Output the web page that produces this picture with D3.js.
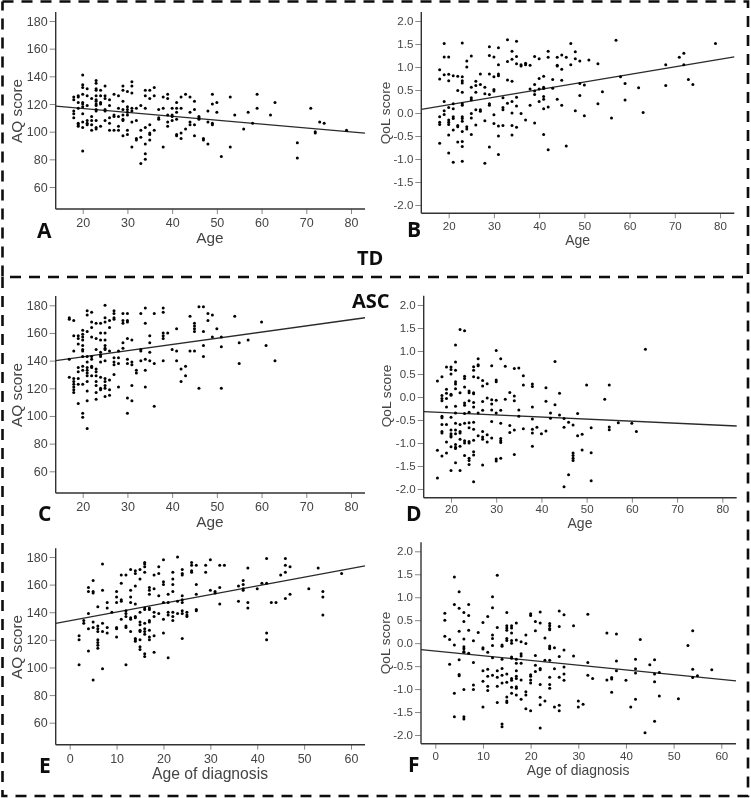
<!DOCTYPE html>
<html><head><meta charset="utf-8">
<script src="https://cdnjs.cloudflare.com/ajax/libs/d3/7.8.5/d3.min.js"></script>
<style>html,body{margin:0;padding:0;background:#fff}svg{display:block}</style></head>
<body><div id="chart"></div>
<script>
// Each row: [x value, y values observed at that x]
const pointsA = [[18,[125,123,115,113,110]],[19,[126,125,121,117,106,105,104]],[20,[141,134,132,127,121,120,118,113,107,103,86]],[21,[131,126,119,108,106,105]],[22,[124,111,108,105,101]],[23,[137,135,131,130,126,123,122,120,119,116,115,108,103,102]],[24,[130,126,121,120,104]],[25,[133,126,124,116,115,108]],[26,[123,119,110,106,101]],[27,[127,112,111,101]],[28,[126,117,111,104,101]],[29,[133,130,122,116,112,109,108,97]],[30,[129,118,116,114,112,101,98]],[31,[136,133,128,117,115,107,89]],[32,[117,108,95,94]],[33,[119,101,96,77]],[34,[130,126,117,103,91,84,80]],[35,[130,124,105,99,98,94]],[36,[132,126,101]],[37,[116,110,109]],[38,[125,117,89]],[39,[127,124,112,107,104]],[40,[117,112,111,108]],[41,[121,117,114,109,98,97]],[42,[125,117,99,95]],[43,[127,102]],[44,[125,114,107,105]],[45,[122,116,105,97]],[46,[111,110,109]],[47,[95,94]],[48,[115,107,91]],[49,[127,120,106,105]],[50,[121,114]],[51,[82]],[53,[125,89]],[54,[112]],[56,[102]],[57,[114]],[58,[106]],[59,[127,117]],[62,[112]],[63,[121]],[68,[92,81]],[71,[117]],[72,[100,99]],[73,[107]],[74,[106]],[79,[101]]];
const pointsB = [[18,[0.94,0.74,-0.08,-0.2,-0.25,-0.66]],[19,[1.51,1.22,0.83,0.25,0.05,-0.03]],[20,[1.22,0.84,0.7,0.12,-0.15,-0.2,-0.25,-0.48,-0.87]],[21,[0.81,0.2,0.09,-0.08,-0.12,-0.37,-1.07]],[22,[0.8,0.49,-0.27,-0.3,-0.63]],[23,[1.52,0.79,0.7,0.65,0.45,0.2,0.17,-0.08,-0.12,-0.18,-0.4,-0.62,-0.73,-1.05]],[24,[1.13,1.0,-0.3,-0.35]],[25,[1.24,0.56,0.33,0.29,-0.01,-0.11,-0.47]],[26,[0.69,0.6,0.45,0.07,-0.26]],[27,[0.85,0.62,0.07,0.04]],[28,[0.56,0.42,-0.17,-1.09]],[29,[1.44,1.25,0.85,0.4,0.2,0.17,-0.74]],[30,[1.22,0.79,0.51,0.48,-0.04,-0.23]],[31,[1.42,1.05,0.85,0.81,-0.28,-0.5,-0.9]],[32,[0.33,0.12,0.07,-0.27]],[33,[1.59,1.12,0.72,0.21]],[34,[1.34,1.17,0.69,0.25,0,-0.27,-0.48]],[35,[1.56,1.23,1.07,0.34,0.15,-0.31]],[36,[1.05,1.02,-0.01]],[37,[1.08,1.05,-0.15]],[38,[1.04,0.52,0.17]],[39,[1.23,0.62,0.48,0.4,-0.22]],[40,[1.18,0.75,0.52,0.25]],[41,[0.8,0.56,0.53,0.36,0.3,0.09,-0.47]],[42,[1.34,1.21,0.13,-0.8]],[43,[0.73,0.54]],[44,[1.21,1.04,1.02,0.3]],[45,[1.26,0.95,0.71,0.17]],[46,[1.21,-0.72]],[47,[1.51,1.05]],[48,[1.33,1.18,0.05]],[49,[1.13,0.64,0.38]],[50,[0.61,-0.06]],[51,[1.15]],[53,[1.07,0.2]],[54,[0.46]],[56,[-0.11]],[57,[1.58]],[58,[0.79]],[59,[0.64,0.28]],[62,[0.55]],[63,[0.01]],[68,[1.05,0.6]],[71,[1.21]],[72,[1.3,1.05]],[73,[0.73]],[74,[0.62]],[79,[1.51]]];
const pointsC = [[17,[171,170,141,128]],[18,[169,158,147,127,125,123,121,119,117]],[19,[158,156,152,135,132,127,123,109]],[20,[162,159,157,155,151,148,147,143,136,133,123,102,99]],[21,[176,173,161,143,139,135,133,131,129,125,118,111,91]],[22,[175,168,164,157,143,141,136,135,129]],[23,[167,156,148,134,132,129,125,122,117,112]],[24,[167,160,155,146,144,143,139,128,120,119]],[25,[180,171,168,160,155,151,149,148,140,127,125,122,120,114]],[26,[169,164,147,126,119,115]],[27,[176,174,171,170,142,139,137,130]],[28,[147,142,138,121]],[29,[174,169,167,153,149]],[30,[174,169,168,156,141,138,113,102]],[31,[155,139,137,122,111]],[32,[133,131]],[33,[174,148,147,140]],[34,[178,167,141,133,121]],[35,[158,153,146,140]],[36,[174,138,107]],[38,[178,175,160,158,156,140]],[39,[160]],[40,[148]],[41,[163,147,140]],[42,[134,125]],[43,[136,129]],[44,[172,147]],[45,[167,165,163,161,147]],[46,[179,120]],[47,[179,161,151,143]],[48,[174,169]],[49,[173,157]],[50,[163]],[51,[157,150,120]],[54,[172]],[55,[153,138]],[57,[155]],[60,[168]],[61,[151]],[63,[140]]];
const pointsD = [[17,[0.35,-1.16,-1.76]],[18,[0.44,0.03,-0.03,-0.08,-0.42,-0.45,-0.6,-0.75,-0.78,-1.28]],[19,[0.65,0.17,0.08,-0.03,-0.22,-0.6,-0.98,-1.22]],[20,[0.65,0.6,0.5,0.06,0.04,-0.44,-0.72,-0.8,-0.84,-0.87,-1.08,-1.6]],[21,[1.13,0.76,0.58,0.33,0.28,0.18,-0.2,-0.35,-0.57,-0.72,-0.8,-1.03,-1.09,-1.12,-1.43]],[22,[1.47,0.09,-0.6,-0.75,-0.78,-0.92,-1.07,-1.6]],[23,[1.44,0.45,0.4,0.22,-0.13,-0.18,-0.36,-0.57,-0.95,-1.0,-1.27]],[24,[0.13,0.09,-0.08,-0.33,-0.56,-0.67,-0.97,-1.0,-1.33,-1.38,-1.47]],[25,[0.66,0.58,0.44,0.09,0.07,-0.12,-0.22,-0.55,-0.7,-0.94,-1.19,-1.26,-1.84]],[26,[0.83,0.7,0.68,0.42,-0.35,-0.84]],[27,[0.36,0.24,-0.1,-0.29,-0.75,-0.87,-0.92,-1.48]],[28,[0.29,-0.02,-0.82,-0.98]],[29,[0.68,-0.06,-0.15,-0.28,-0.53,-0.89]],[30,[1.01,0.37,0.33,-0.07,-0.35,-1.35,-1.39]],[31,[0.83,-0.29,-0.57,-0.9,-0.95,-0.99,-1.33]],[32,[0.67,-0.05]],[33,[0.1,-0.62,-0.77]],[34,[0.62,0.02,-0.08,-0.72,-1.25]],[35,[0.63,-0.28,-0.42]],[36,[0.46,0.26,-0.69]],[38,[0.28,0.23,-0.22,-0.48,-0.7,-0.78,-1.07]],[39,[-0.66]],[40,[-0.8]],[41,[0.2,-0.09,-0.74]],[42,[-0.35,-0.46]],[43,[0.77,-0.17]],[44,[0.08,-0.39]],[45,[-0.47,-0.66,-1.95]],[46,[-0.55,-1.69]],[47,[-0.61,-1.22,-1.27,-1.33,-1.38]],[48,[-0.36,-0.84]],[49,[-0.81,-1.15]],[50,[0.26]],[51,[-0.67,-1.21,-1.82]],[54,[-0.05]],[55,[0.26,-0.65,-0.71]],[57,[-0.56]],[60,[-0.57]],[61,[-0.75]],[63,[1.04]]];
const pointsE = [[2,[123,120,102]],[3,[134,132]],[4,[158,155,139,128,112]],[5,[163,155,154,133,129,91]],[6,[144,130,128,126,120,118,116,114]],[7,[175,156,132,126,99]],[8,[147,143,129,125]],[9,[140]],[10,[155,151,147,129,128,122]],[11,[167,161,149,148,135]],[12,[167,141,139,137,130,129,102]],[13,[171,156,151,147,136,135,126]],[14,[170,168,159,146,137,136,121,120,119]],[15,[171,164,140,133,131,127,126,120,115,113]],[16,[176,175,173,169,143,142,132,128,126,124,110,108]],[17,[158,156,153,143,142,134,133,127,122,120]],[18,[167,157,140,137,123,111]],[19,[173,168,152,139]],[20,[178,162,160,147,135,125]],[21,[153,147,140,138,107]],[22,[169,164,160,155,140,137,134]],[23,[180,148,139]],[24,[171,168,167,152,149,147,141,139,121]],[25,[140,138,137]],[26,[176,174,170,169]],[27,[174,160,153,142,141]],[29,[174,169]],[30,[178,156]],[31,[155,154]],[32,[174,158,146]],[33,[174]],[36,[159,148]],[37,[163,160,157,156]],[38,[172,147,143]],[40,[157]],[41,[161]],[42,[179,161,125,120]],[43,[147]],[44,[147]],[45,[167]],[46,[179,174,169,150]],[47,[173,153]],[51,[157]],[53,[172]],[54,[155,151,138]],[58,[168]]];
const pointsF = [[2,[0.65,0.5,0.15]],[3,[0.08,-0.46]],[4,[1.44,0.84,-0.04,-1.09,-1.6]],[5,[1.12,0.76,0.26,-0.36,-0.68,-0.71]],[6,[0.67,0.47,0.09,-0.08,-0.12,-0.18,-0.2,-1.01,-1.6,-1.65]],[7,[0.84,0.6,0.28,-0.22]],[8,[0.05,-0.42,-0.91,-1.01]],[9,[0.23]],[10,[0.45,-0.1,-0.13,-0.6,-0.83,-1.39]],[11,[0.58,-0.2,-0.57,-0.72,-0.94,-1.03]],[12,[1.01,0.77,0.18,0.1,-0.05,-0.32,-0.7]],[13,[1.48,0.34,-0.6,-0.74,-0.94,-1.29]],[14,[-0.04,-0.07,-0.35,-0.55,-0.7,-0.87,-1.76,-1.82]],[15,[0.67,0.38,0.33,0.28,0.1,0.06,-0.67,-0.85,-1.17,-1.26,-1.29]],[16,[0.38,0.33,0.22,0.06,0.0,-0.3,-0.33,-0.77,-0.81,-0.96,-1.09]],[17,[0.44,0.07,-0.35,-0.44,-0.6,-0.72,-0.77,-0.95,-0.98,-1.13]],[18,[0.03,-0.23,-0.28,-0.44,-0.8,-1.22]],[19,[0.18,-0.01,-1.06,-1.13,-1.43]],[20,[0.64,0.6,-0.69,-0.72,-0.8,-0.87,-1.47]],[21,[0.47,0.27,-0.27,-0.48,-0.62]],[22,[0.68,0.44,-0.55,-0.58,-0.9,-1.18,-1.34,-1.85]],[23,[0.11,-0.37,-1.26]],[24,[0.43,0.38,0.32,0.29,-0.06,-0.1,-0.12,-0.37,-0.74,-0.9,-0.98]],[25,[-0.1,-0.56,-1.39]],[26,[0.7,0.36,-0.29,-0.74,-1.35,-1.47]],[27,[0.62,-0.15,-0.52,-0.67,-0.81]],[29,[0.38,-0.28]],[30,[-1.26,-1.39]],[31,[-1.33]],[32,[0.63,-0.42,-0.7]],[33,[-0.77]],[36,[0.22,-0.8]],[37,[-0.75,-0.78,-1.07]],[38,[0.2,-0.39,-0.6]],[40,[-0.81]],[41,[-1.39]],[42,[-0.35,-0.56,-0.65,-1.22]],[43,[0.08]],[44,[-1.95]],[45,[-0.47]],[46,[-0.36,-0.67,-0.84,-1.7]],[47,[-0.64,-1.15]],[51,[-1.21]],[53,[-0.05]],[54,[0.27,-0.57,-0.75]],[55,[-0.71]],[58,[-0.58]]];

const ageTicks = [20,30,40,50,60,70,80];
const diagnosisTicks = [0,10,20,30,40,50,60];
const aqTicks = [60,80,100,120,140,160,180];
const qolTicks = [-2,-1.5,-1,-0.5,0,0.5,1,1.5,2];

// Fitted regression line: y at the left and right edges of each plot
const fitA = [118.5,99];
const fitB = [0.08,1.22];
const fitC = [140,171];
const fitD = [-0.32,-0.63];
const fitE = [132,173.5];
const fitF = [-0.14,-0.82];

const W = 751, H = 798;
const svg = d3.select("#chart").append("svg").attr("width",W).attr("height",H);
const defs = svg.append("defs");
defs.append("filter").attr("id","soft").append("feGaussianBlur").attr("stdDeviation",0.35);
const root = svg.append("g").attr("filter","url(#soft)");
const SANS = "'Liberation Sans',Arial,sans-serif";
const BOLD = "'Open Sans','Noto Sans',sans-serif";

// Layout: x0/x1 axis span in px, xp/yp tick anchors in px, yTop/yBot axis span
const panels = [
 {id:"A",pts:pointsA,fit:fitA,xT:ageTicks,yT:aqTicks,xa:[20,80],ya:[180,60],x0:55.7,x1:365,xp:[82.7,351],yTop:12,yBot:209,yp:[21,187],xLab:"Age",yLab:"AQ score",lx:37,ly:238,xlc:210,xlb:243,tb:227,ylx:22,ylc:111,xfs:15.4,yfs:15.4,tfs:12.5},
 {id:"B",pts:pointsB,fit:fitB,xT:ageTicks,yT:qolTicks,xa:[20,80],ya:[2,-2],x0:421.3,x1:734.3,xp:[448.7,720],yTop:12,yBot:213.3,yp:[21,205],xLab:"Age",yLab:"QoL score",lx:407,ly:237,xlc:577.7,xlb:245,tb:230,ylx:390,ylc:113,xfs:14,yfs:13.7,tfs:11.5},
 {id:"C",pts:pointsC,fit:fitC,xT:ageTicks,yT:aqTicks,xa:[20,80],ya:[180,60],x0:55.7,x1:365,xp:[82.7,351],yTop:296,yBot:493,yp:[305.3,471.3],xLab:"Age",yLab:"AQ score",lx:38,ly:521,xlc:210,xlb:527,tb:511,ylx:22,ylc:395,xfs:15.4,yfs:15.4,tfs:12.5},
 {id:"D",pts:pointsD,fit:fitD,xT:ageTicks,yT:qolTicks,xa:[20,80],ya:[2,-2],x0:423.7,x1:736.7,xp:[451,722.3],yTop:295.7,yBot:497.7,yp:[305,489],xLab:"Age",yLab:"QoL score",lx:406,ly:521,xlc:580,xlb:528,tb:513,ylx:391,ylc:396,xfs:14,yfs:13.7,tfs:11.5},
 {id:"E",pts:pointsE,fit:fitE,xT:diagnosisTicks,yT:aqTicks,xa:[0,60],ya:[180,60],x0:55.7,x1:365,xp:[69.7,351],yTop:548.3,yBot:744.7,yp:[557,722.7],xLab:"Age of diagnosis",yLab:"AQ score",lx:39,ly:773,xlc:210,xlb:779,tb:763,ylx:22,ylc:647,xfs:15.7,yfs:15.4,tfs:12.5},
 {id:"F",pts:pointsF,fit:fitF,xT:diagnosisTicks,yT:qolTicks,xa:[0,60],ya:[2,-2],x0:421,x1:736,xp:[435.3,721.3],yTop:542.3,yBot:743.7,yp:[551.3,735],xLab:"Age of diagnosis",yLab:"QoL score",lx:408,ly:772,xlc:578,xlb:775,tb:760,ylx:390,ylc:643,xfs:13.9,yfs:13.7,tfs:11.5}
];

panels.forEach(p=>{
  const x = d3.scaleLinear().domain(p.xa).range(p.xp);
  const y = d3.scaleLinear().domain(p.ya).range(p.yp);
  const g = root.append("g");
  const yAxis = d3.axisLeft(y).tickValues(p.yT).tickSize(6).tickPadding(2)
    .tickFormat(d=>Math.abs(p.ya[0])<10 ? d3.format(".1f")(d).replace("\u2212","-") : d);
  const xAxis = d3.axisBottom(x).tickValues(p.xT).tickSize(5).tickPadding(0).tickFormat(d=>d);
  const ya = g.append("g").attr("transform",`translate(${p.x0},0)`).call(yAxis);
  const xa = g.append("g").attr("transform",`translate(0,${p.yBot})`).call(xAxis);
  ya.select(".domain").remove(); xa.select(".domain").remove();
  [ya,xa].forEach(a=>{
    a.attr("font-family",SANS).attr("font-size",p.tfs);
    a.selectAll("text").attr("fill","#444");
    a.selectAll("line").attr("stroke","#888").attr("stroke-width",1);
  });
  xa.selectAll("text").attr("y",null).attr("dy",null).attr("transform",`translate(0,${p.tb-p.yBot})`);
  // axis lines
  g.append("line").attr("x1",p.x0).attr("x2",p.x0).attr("y1",p.yTop).attr("y2",p.yBot).attr("stroke","#333").attr("stroke-width",1.4);
  g.append("line").attr("x1",p.x0).attr("x2",p.x1).attr("y1",p.yBot).attr("y2",p.yBot).attr("stroke","#333").attr("stroke-width",1.4);
  // regression line
  g.append("line").attr("x1",p.x0).attr("x2",p.x1)
    .attr("y1",y(p.fit[0])).attr("y2",y(p.fit[1])).attr("stroke","#2a2a2a").attr("stroke-width",1.3);
  // points
  const flat = p.pts.flatMap(([a,vs])=>vs.map(v=>[a,v]));
  g.append("g").selectAll("circle").data(flat).join("circle")
    .attr("cx",d=>x(d[0])).attr("cy",d=>y(d[1])).attr("r",1.5).attr("fill","#000");
  // axis titles
  g.append("text").attr("x",p.xlc).attr("y",p.xlb).attr("text-anchor","middle")
    .attr("font-family",SANS).attr("font-size",p.xfs).attr("fill","#444").text(p.xLab);
  g.append("text").attr("transform",`translate(${p.ylx},${p.ylc}) rotate(-90)`).attr("text-anchor","middle")
    .attr("font-family",SANS).attr("font-size",p.yfs).attr("fill","#444").text(p.yLab);
  // panel letter
  g.append("text").attr("x",p.lx).attr("y",p.ly).attr("font-family",BOLD).attr("font-weight",700)
    .attr("font-size",21).attr("fill","#111").text(p.id);
});

// group labels
[["TD",357,265],["ASC",352,308]].forEach(([t,xx,yy])=>{
  root.append("text").attr("x",xx).attr("y",yy).attr("font-family",BOLD).attr("font-weight",700)
    .attr("font-size",20).attr("fill","#111").text(t);
});

// dashed frames
const frame = d3.path();
frame.moveTo(2.5,1.5); frame.lineTo(748,1.5); frame.lineTo(748,277); frame.lineTo(2.5,277); frame.lineTo(2.5,1.5);
frame.moveTo(2.5,277); frame.lineTo(2.5,796); frame.lineTo(748,796); frame.lineTo(748,277);
root.append("path").attr("d",frame.toString()).attr("fill","none").attr("stroke","#111")
  .attr("stroke-width",2.6).attr("stroke-dasharray","11,8");
</script></body></html>
